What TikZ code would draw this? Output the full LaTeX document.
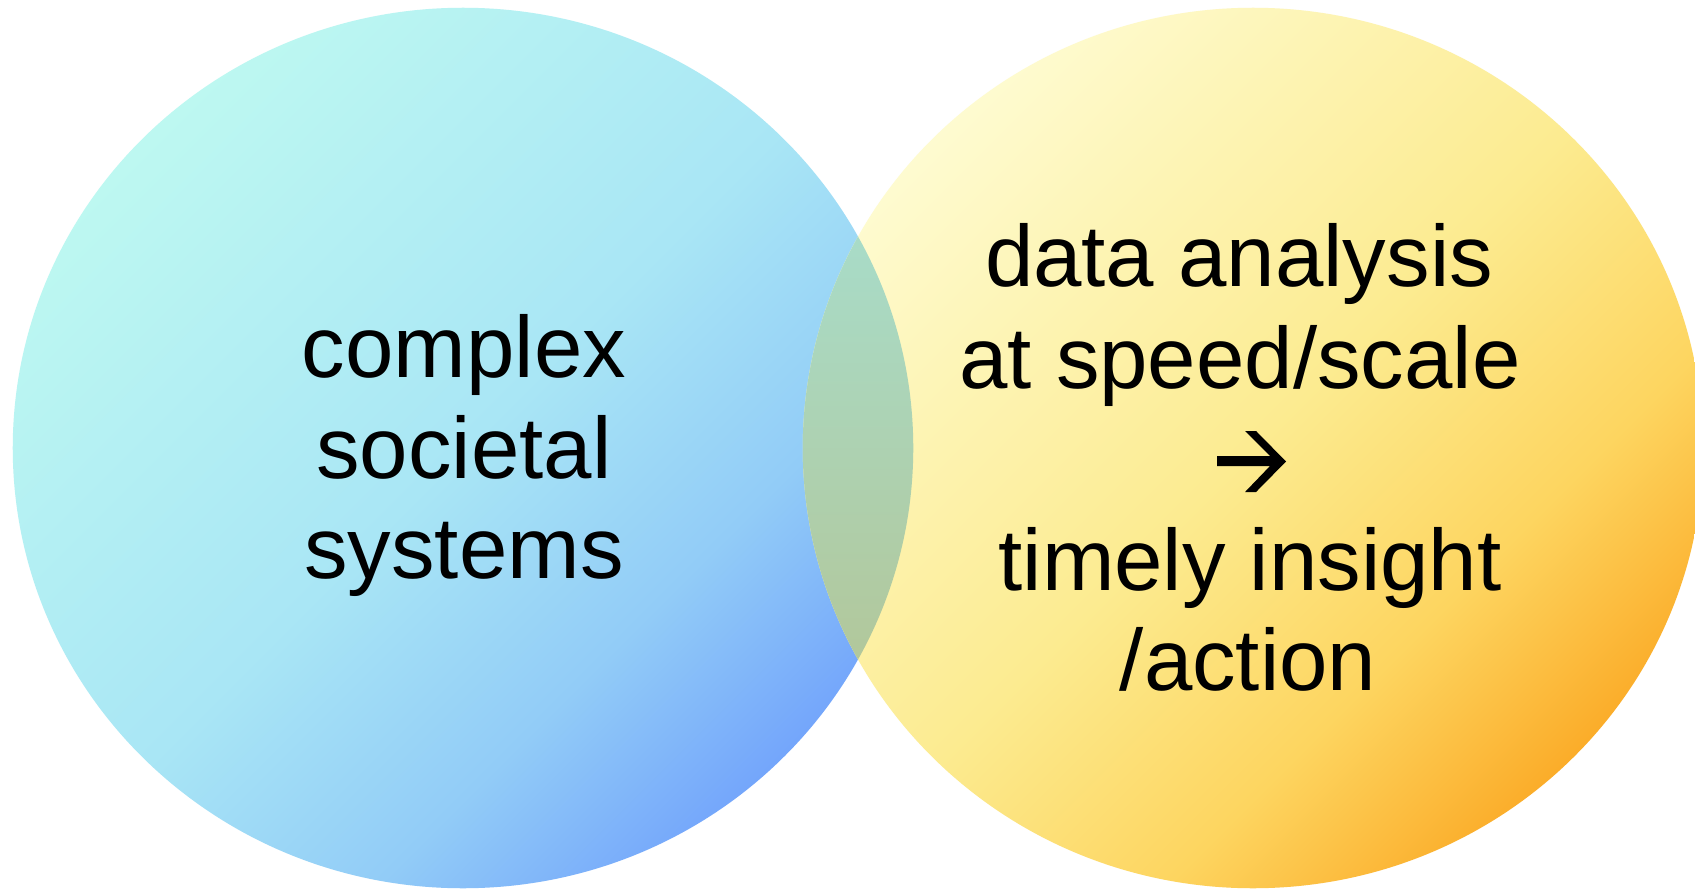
\documentclass[tikz,border=0pt]{standalone}
\usepackage{fontspec}
\setmainfont{Liberation Sans}
\definecolor{cyanlight}{HTML}{BDF8F1}
\definecolor{cyanmid}{HTML}{A9E6F5}
\definecolor{skyblue}{HTML}{92CCF7}
\definecolor{bluedeep}{HTML}{74A6FB}
\definecolor{creamlight}{HTML}{FEFBD0}
\definecolor{yellowmid}{HTML}{FCEB90}
\definecolor{goldmid}{HTML}{FDD560}
\definecolor{orangedeep}{HTML}{FBAD2A}
\definecolor{lenstop}{HTML}{A8DCC9}
\definecolor{lensbottom}{HTML}{B2C79A}
\pgfdeclarehorizontalshading{bluefade}{100bp}{color(0bp)=(cyanlight); color(25bp)=(cyanlight);
  color(50bp)=(cyanmid); color(64bp)=(skyblue); color(75bp)=(bluedeep); color(100bp)=(bluedeep)}
\pgfdeclarehorizontalshading{sunfade}{100bp}{color(0bp)=(creamlight); color(25bp)=(creamlight);
  color(50bp)=(yellowmid); color(64bp)=(goldmid); color(75bp)=(orangedeep); color(100bp)=(orangedeep)}
\begin{document}
\begin{tikzpicture}[x=0.01cm,y=-0.01cm,
  label text/.style={font=\fontsize{24.75pt}{28.6pt}\selectfont, text=black, inner sep=0pt, anchor=base},
  blob/.style={x radius=4.5cm, y radius=4.4cm}]

  % page frame
  \fill[white] (0,0) rectangle (1695,888);
  \useasboundingbox (0,0) rectangle (1695,888);

  % the two overlapping discs, light at upper left, deep at lower right
  \shade[shading=bluefade, shading angle=-45] (463,448) ellipse [blob];
  \shade[shading=sunfade, shading angle=-45] (1253,448) ellipse [blob];

  % overlap region
  \begin{scope}
    \clip (463,448) ellipse [blob];
    \clip (1253,448) ellipse [blob];
    \shade[top color=lenstop, bottom color=lensbottom] (795,225) rectangle (920,670);
  \end{scope}

  % left label
  \node[label text] (l1) at (464,377) {complex};
  \node[label text] (l2) at (464,478) {societal};
  \node[label text] (l3) at (464,578) {systems};

  % right label
  \node[label text] (r1) at (1239,286) {data analysis};
  \node[label text] (r2) at (1240,388) {at speed/scale};
  \node[label text] (r4) at (1250,590) {timely insight};
  \node[label text] (r5) at (1248,690) {/action};

  % chevron arrow between the two statements
  \fill[black] (1217,456) -- (1270,456) -- (1245,431) -- (1256,431) -- (1286,461.5)
    -- (1256,492) -- (1245,492) -- (1270,466) -- (1217,466) -- cycle;
\end{tikzpicture}
\end{document}
